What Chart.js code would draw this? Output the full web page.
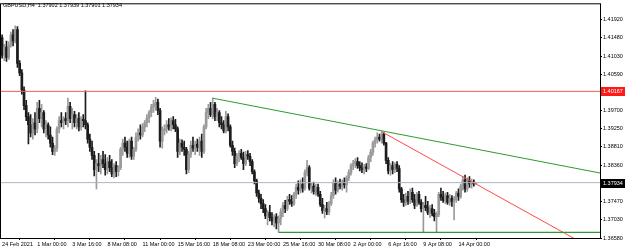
<!DOCTYPE html>
<html>
<head>
<meta charset="utf-8">
<script src="https://cdn.jsdelivr.net/npm/chart.js@4"></script>
<style>
  html, body { margin: 0; padding: 0; background: #fff; }
  canvas { display: block; }
</style>
</head>
<body>
<canvas id="chart" width="625" height="250"></canvas>
<script>
/* GBPUSD H4 — candles */

const opens = [
  1.4148,1.4105,1.4125,1.4100,1.4130,1.4155,1.4140,1.4168,1.4085,1.4062,1.4020,1.3982,
  1.3955,1.3935,1.3915,1.3940,1.3925,1.3975,1.3950,1.3965,1.3925,1.3935,1.3910,1.3890,
  1.3870,1.3878,1.3925,1.3945,1.3940,1.3950,1.3945,1.3980,1.3950,1.3960,1.3940,1.3950,
  1.3930,1.3948,1.3945,1.3935,1.3900,1.3880,1.3860,1.3825,1.3840,1.3835,1.3850,1.3840,
  1.3825,1.3845,1.3830,1.3815,1.3835,1.3820,1.3830,1.3875,1.3890,1.3880,1.3865,1.3895,
  1.3858,1.3875,1.3905,1.3915,1.3910,1.3930,1.3940,1.3952,1.3965,1.3978,1.3985,1.3990,
  1.3970,1.3895,1.3920,1.3925,1.3935,1.3930,1.3945,1.3935,1.3925,1.3870,1.3890,1.3880,
  1.3875,1.3825,1.3862,1.3885,1.3878,1.3888,1.3880,1.3895,1.3870,1.3930,1.3965,1.3975,
  1.3960,1.3985,1.3955,1.3965,1.3940,1.3935,1.3920,1.3955,1.3930,1.3885,1.3870,1.3840,
  1.3858,1.3865,1.3855,1.3840,1.3862,1.3858,1.3845,1.3820,1.3798,1.3768,1.3755,1.3742,
  1.3730,1.3712,1.3720,1.3708,1.3700,1.3710,1.3695,1.3705,1.3722,1.3738,1.3730,1.3752,
  1.3748,1.3742,1.3765,1.3782,1.3775,1.3790,1.3780,1.3818,1.3830,1.3780,1.3785,1.3772,
  1.3782,1.3765,1.3740,1.3725,1.3730,1.3722,1.3742,1.3762,1.3792,1.3775,1.3790,1.3785,
  1.3795,1.3788,1.3805,1.3818,1.3835,1.3840,1.3845,1.3835,1.3830,1.3825,1.3832,1.3828,
  1.3855,1.3868,1.3890,1.3898,1.3905,1.3900,1.3912,1.3890,1.3848,1.3822,1.3835,1.3825,
  1.3838,1.3828,1.3778,1.3752,1.3745,1.3760,1.3748,1.3770,1.3752,1.3738,1.3765,1.3745,
  1.3730,1.3738,1.3732,1.3720,1.3730,1.3718,1.3710,1.3715,1.3765,1.3758,1.3750,1.3762,
  1.3745,1.3755,1.3748,1.3752,1.3768,1.3760,1.3785,1.3800,1.3778,1.3798,1.3790,1.3795,
  1.37902
];
const highs = [
  1.4155,1.4132,1.4140,1.4138,1.4162,1.4168,1.4177,1.4175,1.4092,1.4070,1.4028,1.3995,
  1.3965,1.3960,1.3950,1.3965,1.3990,1.3995,1.3985,1.3970,1.3945,1.3940,1.3930,1.3905,
  1.3885,1.3930,1.3955,1.3965,1.3955,1.3965,1.4000,1.3990,1.3975,1.3968,1.3960,1.3965,
  1.3955,1.3960,1.4018,1.3940,1.3912,1.3895,1.3870,1.3850,1.3865,1.3860,1.3870,1.3862,
  1.3855,1.3860,1.3850,1.3840,1.3845,1.3835,1.3880,1.3900,1.3905,1.3895,1.3900,1.3905,
  1.3880,1.3915,1.3925,1.3935,1.3938,1.3945,1.3960,1.3970,1.3985,1.3995,1.4002,1.3998,
  1.3975,1.3930,1.3935,1.3945,1.3950,1.3952,1.3955,1.3948,1.3930,1.3900,1.3898,1.3895,
  1.3880,1.3870,1.3895,1.3905,1.3895,1.3900,1.3905,1.3912,1.3935,1.3975,1.3985,1.3990,
  1.4000,1.3990,1.3975,1.3970,1.3955,1.3945,1.3968,1.3962,1.3935,1.3895,1.3878,1.3865,
  1.3872,1.3875,1.3868,1.3870,1.3872,1.3865,1.3850,1.3825,1.3802,1.3775,1.3765,1.3752,
  1.3740,1.3725,1.3738,1.3720,1.3715,1.3718,1.3712,1.3730,1.3745,1.3750,1.3760,1.3765,
  1.3762,1.3770,1.3790,1.3798,1.3800,1.3805,1.3825,1.3848,1.3835,1.3792,1.3795,1.3790,
  1.3790,1.3772,1.3755,1.3738,1.3745,1.3748,1.3770,1.3800,1.3805,1.3798,1.3802,1.3800,
  1.3805,1.3810,1.3825,1.3840,1.3848,1.3852,1.3855,1.3845,1.3842,1.3838,1.3840,1.3860,
  1.3875,1.3895,1.3905,1.3915,1.3912,1.3918,1.3915,1.3892,1.3855,1.3840,1.3845,1.3842,
  1.3845,1.3835,1.3782,1.3765,1.3768,1.3772,1.3778,1.3780,1.3765,1.3770,1.3772,1.3752,
  1.3745,1.3760,1.3748,1.3738,1.3740,1.3728,1.3722,1.3770,1.3780,1.3772,1.3768,1.3770,
  1.3765,1.3762,1.3760,1.3772,1.3778,1.3790,1.3808,1.3812,1.3805,1.3808,1.3802,1.3800,
  1.37939
];
const lows = [
  1.4098,1.4092,1.4090,1.4095,1.4125,1.4128,1.4135,1.4075,1.4055,1.4010,1.3972,1.3945,
  1.3888,1.3905,1.3900,1.3910,1.3915,1.3940,1.3930,1.3915,1.3905,1.3900,1.3880,1.3862,
  1.3860,1.3870,1.3915,1.3930,1.3925,1.3935,1.3930,1.3940,1.3925,1.3930,1.3925,1.3920,
  1.3922,1.3930,1.3925,1.3890,1.3870,1.3850,1.3810,1.3778,1.3820,1.3815,1.3830,1.3812,
  1.3815,1.3820,1.3808,1.3805,1.3808,1.3810,1.3825,1.3860,1.3870,1.3855,1.3855,1.3850,
  1.3850,1.3870,1.3895,1.3900,1.3905,1.3918,1.3930,1.3940,1.3955,1.3965,1.3970,1.3960,
  1.3880,1.3878,1.3910,1.3915,1.3922,1.3920,1.3925,1.3918,1.3855,1.3862,1.3870,1.3860,
  1.3815,1.3818,1.3855,1.3870,1.3862,1.3870,1.3860,1.3855,1.3865,1.3925,1.3950,1.3955,
  1.3950,1.3945,1.3945,1.3930,1.3925,1.3915,1.3915,1.3920,1.3880,1.3860,1.3830,1.3835,
  1.3845,1.3850,1.3825,1.3835,1.3850,1.3835,1.3815,1.3790,1.3760,1.3745,1.3730,1.3720,
  1.3705,1.3690,1.3700,1.3690,1.3685,1.3680,1.3672,1.3690,1.3710,1.3720,1.3725,1.3740,
  1.3735,1.3738,1.3755,1.3765,1.3768,1.3770,1.3775,1.3810,1.3775,1.3768,1.3765,1.3762,
  1.3760,1.3735,1.3718,1.3707,1.3715,1.3715,1.3738,1.3755,1.3765,1.3770,1.3778,1.3775,
  1.3780,1.3770,1.3798,1.3812,1.3825,1.3830,1.3828,1.3822,1.3818,1.3815,1.3820,1.3825,
  1.3845,1.3860,1.3880,1.3890,1.3895,1.3890,1.3885,1.3840,1.3815,1.3812,1.3815,1.3818,
  1.3820,1.3770,1.3745,1.3735,1.3738,1.3740,1.3742,1.3745,1.3730,1.3735,1.3740,1.3722,
  1.3672,1.3725,1.3715,1.3708,1.3712,1.3700,1.3672,1.3710,1.3750,1.3745,1.3742,1.3740,
  1.3738,1.3735,1.3702,1.3745,1.3750,1.3755,1.3775,1.3770,1.3772,1.3782,1.3780,1.3785,
  1.37901
];
const closes = [
  1.4105,1.4125,1.4100,1.4130,1.4155,1.4140,1.4168,1.4085,1.4062,1.4020,1.3982,1.3955,
  1.3935,1.3915,1.3940,1.3925,1.3975,1.3950,1.3965,1.3925,1.3935,1.3910,1.3890,1.3870,
  1.3878,1.3925,1.3945,1.3940,1.3950,1.3945,1.3980,1.3950,1.3960,1.3940,1.3950,1.3930,
  1.3948,1.3945,1.3935,1.3900,1.3880,1.3860,1.3825,1.3840,1.3835,1.3850,1.3840,1.3825,
  1.3845,1.3830,1.3815,1.3835,1.3820,1.3830,1.3875,1.3890,1.3880,1.3865,1.3895,1.3858,
  1.3875,1.3905,1.3915,1.3910,1.3930,1.3940,1.3952,1.3965,1.3978,1.3985,1.3990,1.3970,
  1.3895,1.3920,1.3925,1.3935,1.3930,1.3945,1.3935,1.3925,1.3870,1.3890,1.3880,1.3875,
  1.3825,1.3862,1.3885,1.3878,1.3888,1.3880,1.3895,1.3870,1.3930,1.3965,1.3975,1.3960,
  1.3985,1.3955,1.3965,1.3940,1.3935,1.3920,1.3955,1.3930,1.3885,1.3870,1.3840,1.3858,
  1.3865,1.3855,1.3840,1.3862,1.3858,1.3845,1.3820,1.3798,1.3768,1.3755,1.3742,1.3730,
  1.3712,1.3720,1.3708,1.3700,1.3710,1.3695,1.3705,1.3722,1.3738,1.3730,1.3752,1.3748,
  1.3742,1.3765,1.3782,1.3775,1.3790,1.3780,1.3818,1.3830,1.3780,1.3785,1.3772,1.3782,
  1.3765,1.3740,1.3725,1.3730,1.3722,1.3742,1.3762,1.3792,1.3775,1.3790,1.3785,1.3795,
  1.3788,1.3805,1.3818,1.3835,1.3840,1.3845,1.3835,1.3830,1.3825,1.3832,1.3828,1.3855,
  1.3868,1.3890,1.3898,1.3905,1.3900,1.3912,1.3890,1.3848,1.3822,1.3835,1.3825,1.3838,
  1.3828,1.3778,1.3752,1.3745,1.3760,1.3748,1.3770,1.3752,1.3738,1.3765,1.3745,1.3730,
  1.3738,1.3732,1.3720,1.3730,1.3718,1.3710,1.3715,1.3765,1.3758,1.3750,1.3762,1.3745,
  1.3755,1.3748,1.3752,1.3768,1.3760,1.3785,1.3800,1.3778,1.3798,1.3790,1.3795,1.3790,
  1.37934
];

// time axis: a label every 16 bars
const timeTickBars = [0, 16, 32, 48, 64, 80, 96, 112, 128, 144, 160, 176, 192, 208];
const timeTickLabels = [
  "24 Feb 2021", "1 Mar 00:00", "3 Mar 16:00", "8 Mar 08:00", "11 Mar 00:00",
  "15 Mar 16:00", "18 Mar 08:00", "23 Mar 00:00", "25 Mar 16:00", "30 Mar 08:00",
  "2 Apr 00:00", "6 Apr 16:00", "9 Apr 08:00", "14 Apr 00:00"
];
const priceTicks = [1.41920, 1.41480, 1.41030, 1.40590, 1.40140, 1.39700, 1.39250,
  1.38810, 1.38360, 1.37920, 1.37470, 1.37030, 1.36580];

const titleText = "GBPUSD,H4  1.37902 1.37939 1.37901 1.37934";
const levelRed = 1.40167;
const lastPrice = 1.37934;

// drawn objects: [bar index, price] endpoints
const trendGreen = [[96, 1.4000], [272.5, 1.3817]];
const trendRed = [[173, 1.3918], [262, 1.3653]];
const supportGreen = [[126, 1.3672], [272.5, 1.3672]];

const X_MIN = -0.5, X_MAX = 272.5;
const Y_MIN = 1.3658, Y_MAX = 1.42297;

const FONT = { family: "'Liberation Sans', Arial, sans-serif", size: 5.5 };
const UP = "#9a9a9a", DOWN = "#1c1c1c";

const isUp = opens.map((o, i) => closes[i] >= o);

const toPts = arr => arr.map(p => ({ x: p[0], y: p[1] }));

const overlay = {
    id: "overlay",
    afterDraw(chart) {
        const { ctx, chartArea: a, scales: { y } } = chart;
        ctx.save();
        // frame
        ctx.strokeStyle = "#000";
        ctx.lineWidth = 1;
        ctx.strokeRect(a.left - 0.5, a.top - 0.5, a.right - a.left + 1, a.bottom - a.top + 1);
        // symbol line
        ctx.font = FONT.size + "px " + FONT.family;
        ctx.fillStyle = "#000";
        ctx.textBaseline = "top";
        ctx.fillText(titleText, 3, 3);
        // price labels on the axis
        [[levelRed, "#ff1a1a"], [lastPrice, "#000000"]].forEach(([v, bg]) => {
            const py = Math.round(y.getPixelForValue(v));
            ctx.fillStyle = bg;
            ctx.fillRect(a.right + 1, py - 4, 25, 9);
            ctx.fillStyle = "#fff";
            ctx.textBaseline = "middle";
            ctx.fillText(v.toFixed(5), a.right + 3, py + 0.5);
        });
        ctx.restore();
    }
};

new Chart(document.getElementById("chart"), {
    type: "bar",
    data: {
        datasets: [
            {
                type: "line",
                data: [{ x: X_MIN, y: levelRed }, { x: X_MAX, y: levelRed }],
                borderColor: "#f05a5a", borderWidth: 1, pointRadius: 0, order: 0
            },
            {
                type: "line",
                data: [{ x: X_MIN, y: lastPrice }, { x: X_MAX, y: lastPrice }],
                borderColor: "#aab6c4", borderWidth: 1, pointRadius: 0, order: 0
            },
            {
                type: "line",
                data: toPts(trendGreen),
                borderColor: "#2f9a2f", borderWidth: 1, pointRadius: 0, order: 0
            },
            {
                type: "line",
                data: toPts(supportGreen),
                borderColor: "#2f9a2f", borderWidth: 1.2, pointRadius: 0, order: 0
            },
            {
                type: "line",
                data: toPts(trendRed),
                borderColor: "#ff4a4a", borderWidth: 1, pointRadius: 0, order: 0
            },
            {
                // bodies
                data: opens.map((o, i) => ({ x: i, y: [o, closes[i]] })),
                backgroundColor: isUp.map(u => u ? UP : DOWN),
                barThickness: 2,
                grouped: false,
                order: 1
            },
            {
                // wicks
                data: highs.map((h, i) => ({ x: i, y: [lows[i], h] })),
                backgroundColor: isUp.map(u => u ? UP : DOWN),
                barThickness: 1,
                grouped: false,
                order: 2
            }
        ]
    },
    options: {
        responsive: false,
        animation: false,
        layout: { padding: { left: 1, top: 1, right: 0, bottom: 0 } },
        plugins: { legend: { display: false }, tooltip: { enabled: false } },
        scales: {
            x: {
                type: "linear",
                offset: false,
                min: X_MIN,
                max: X_MAX,
                afterBuildTicks: s => { s.ticks = timeTickBars.map(v => ({ value: v })); },
                afterFit: s => { s.height = 12; },
                grid: { display: true, drawOnChartArea: false, drawTicks: true, tickLength: 2, color: "#000" },
                border: { display: false },
                ticks: {
                    autoSkip: false,
                    maxRotation: 0,
                    align: "start",
                    padding: 1,
                    color: "#000",
                    font: FONT,
                    callback: v => timeTickLabels[timeTickBars.indexOf(v)] || ""
                }
            },
            y: {
                type: "linear",
                position: "right",
                beginAtZero: false,
                min: Y_MIN,
                max: Y_MAX,
                afterBuildTicks: s => { s.ticks = priceTicks.map(v => ({ value: v })); },
                afterFit: s => { s.width = 25; },
                grid: { display: true, drawOnChartArea: false, drawTicks: true, tickLength: 2, color: "#000" },
                border: { display: false },
                ticks: {
                    padding: 1,
                    color: "#000",
                    font: FONT,
                    callback: v => Number(v).toFixed(5)
                }
            }
        }
    },
    plugins: [overlay]
});
</script>
</body>
</html>
